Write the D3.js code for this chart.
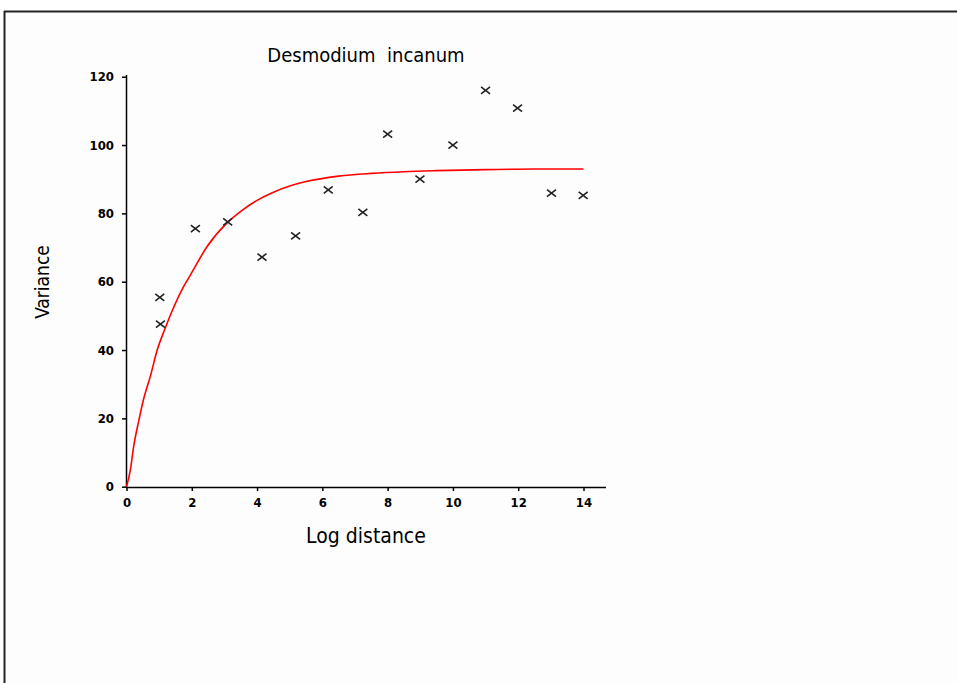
<!DOCTYPE html>
<html><head><meta charset="utf-8">
<script src="https://cdn.jsdelivr.net/npm/d3@7"></script>
<style>
html,body{margin:0;padding:0;background:#ffffff;}
svg{display:block;}
text{font-family:"DejaVu Sans",sans-serif;font-stretch:condensed;fill:#000;}
</style></head>
<body>
<svg id="chart" width="957" height="683"></svg>
<script>
// Observed variogram points (log distance, variance)
const distances = [1.02, 1.04, 2.11, 3.10, 4.15, 5.18, 6.18, 7.24, 8.0, 8.99, 10.0, 11.0, 11.98, 13.02, 13.99];
const variances = [55.4, 47.6, 75.5, 77.5, 67.2, 73.4, 86.9, 80.3, 103.2, 90.0, 100.0, 116.0, 110.8, 85.9, 85.3];
// Fitted model curve
const curveX = [0, 0.12, 0.22, 0.38, 0.53, 0.73, 0.94, 1.17, 1.4, 1.70, 1.96, 2.47, 3.08, 3.5, 4.0, 4.5, 5.0, 5.5, 6.5, 7.5, 8.5, 9.5, 11.0, 12.5, 14];
const curveY = [0, 5, 11.8, 19.5, 25.9, 32.3, 40, 46, 51.5, 57.7, 62, 70.3, 77.2, 80.6, 83.8, 86.2, 88.0, 89.3, 90.9, 91.7, 92.2, 92.5, 92.8, 93.0, 93.0];
const xTicks = [0, 2, 4, 6, 8, 10, 12, 14];
const yTicks = [0, 20, 40, 60, 80, 100, 120];
const title = "Desmodium  incanum";
const xLabel = "Log distance";
const yLabel = "Variance";

const svg = d3.select("#chart");
// frame / background
svg.append("rect").attr("x",5).attr("y",12).attr("width",952).attr("height",671).attr("fill","#fdfdfd");
svg.append("line").attr("x1",4).attr("x2",957).attr("y1",11.5).attr("y2",11.5).attr("stroke","#222").attr("stroke-width",2);
svg.append("line").attr("x1",4.5).attr("x2",4.5).attr("y1",11).attr("y2",683).attr("stroke","#222").attr("stroke-width",2);

const x = d3.scaleLinear().domain([0,14]).range([126.5,583.5]);
const y = d3.scaleLinear().domain([0,120]).range([486.7,76.7]);

const xAxis = svg.append("g").attr("transform","translate(0,487)")
  .call(d3.axisBottom(x).tickValues(xTicks).tickSize(4).tickSizeOuter(0).tickPadding(6));
xAxis.select(".domain").attr("d","M126,0.5H606").attr("stroke","#000").attr("stroke-width",1.5);
xAxis.selectAll(".tick line").attr("stroke","#000").attr("stroke-width",1.5);
xAxis.selectAll(".tick text").attr("font-size",13).attr("font-family","'DejaVu Sans',sans-serif")
  .style("font-stretch","condensed").attr("font-weight","bold").attr("dy","0.8em");

const yAxis = svg.append("g").attr("transform","translate(126,0)")
  .call(d3.axisLeft(y).tickValues(yTicks).tickSize(4).tickSizeOuter(0).tickPadding(8));
yAxis.select(".domain").attr("d","M0.5,75V487").attr("stroke","#000").attr("stroke-width",1.5);
yAxis.selectAll(".tick line").attr("stroke","#000").attr("stroke-width",1.5);
yAxis.selectAll(".tick text").attr("font-size",13).attr("font-family","'DejaVu Sans',sans-serif")
  .style("font-stretch","condensed").attr("font-weight","bold");

// fitted curve
const curve = curveX.map((d,i)=>[d,curveY[i]]);
svg.append("path").datum(curve)
  .attr("fill","none").attr("stroke","#ff0000").attr("stroke-width",1.6)
  .attr("d", d3.line().x(d=>x(d[0])).y(d=>y(d[1])).curve(d3.curveMonotoneX));

// points as x markers
const pts = distances.map((d,i)=>[d,variances[i]]);
svg.append("g").selectAll("path").data(pts).join("path")
  .attr("transform",d=>`translate(${x(d[0])},${y(d[1])})`)
  .attr("d","M-4.5,-3.5L4.5,3.5M-4.5,3.5L4.5,-3.5")
  .attr("stroke","#222").attr("stroke-width",1.6).attr("fill","none");

// labels
svg.append("text").attr("x",366).attr("y",62).attr("text-anchor","middle")
  .attr("font-size",20).style("white-space","pre").text(title);
svg.append("text").attr("x",366).attr("y",543).attr("text-anchor","middle")
  .attr("font-size",21).style("white-space","pre").text(xLabel);
svg.append("text").attr("transform","translate(49,282) rotate(-90)").attr("text-anchor","middle")
  .attr("font-size",19).text(yLabel);
</script>
</body></html>
